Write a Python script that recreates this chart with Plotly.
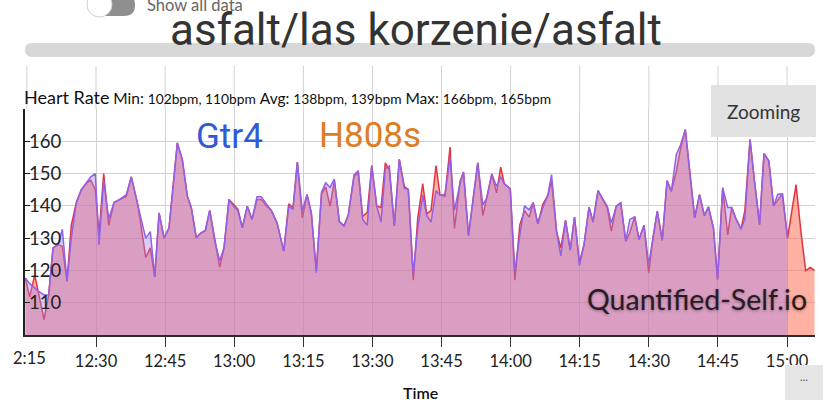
import plotly.graph_objects as go

# ---------------- data ----------------
times = ["12:14:39","12:15:36","12:16:42","12:17:34","12:18:43","12:19:44","12:20:40","12:21:45","12:22:41","12:23:42",
"12:24:38","12:25:43","12:26:49","12:27:54","12:28:51","12:29:51","12:30:39","12:31:40","12:32:45","12:33:54",
"12:35:09","12:36:35","12:37:40","12:39:07","12:39:57","12:40:47","12:41:47","12:42:45","12:43:41","12:44:46",
"12:45:51","12:46:43","12:47:39","12:48:44","12:49:49","12:50:41","12:51:46","12:52:44","12:53:44","12:54:41",
"12:55:46","12:56:51","12:57:47","12:58:52","12:59:53","13:00:49","13:01:45","13:02:50","13:03:52","13:04:57",
"13:05:53","13:06:58","13:08:03","13:09:18","13:10:45","13:11:50","13:12:46","13:13:42","13:14:47","13:15:48",
"13:16:44","13:17:49","13:18:57","13:19:52","13:20:48","13:21:44","13:22:49","13:23:50","13:24:46","13:26:00",
"13:26:56","13:27:53","13:28:53","13:29:51","13:30:56","13:31:52","13:32:48","13:33:40","13:34:45","13:35:50",
"13:36:55","13:37:47","13:38:52","13:39:50","13:40:55","13:41:47","13:42:43","13:43:48","13:44:40","13:45:45",
"13:46:51","13:47:49","13:49:01","13:49:46","13:50:51","13:51:53","13:52:52","13:53:58","13:54:51","13:55:55",
"13:56:56","13:57:51","13:58:38","13:59:55","14:00:55","14:02:00","14:03:01","14:04:02","14:04:54","14:05:54",
"14:06:59","14:08:03","14:08:53","14:09:58","14:10:54","14:11:55","14:12:56","14:13:52","14:14:56","14:15:56",
"14:17:01","14:17:53","14:18:58","14:20:03","14:20:59","14:21:51","14:22:56","14:23:54","14:24:59","14:25:51",
"14:26:56","14:27:52","14:28:57","14:29:58","14:30:54","14:31:50","14:32:55","14:33:57","14:34:53","14:35:58",
"14:36:55","14:37:55","14:38:52","14:39:57","14:41:00","14:42:03","14:42:57","14:44:02","14:44:55","14:46:02",
"14:47:07","14:47:59","14:48:58","14:50:01","14:50:50","14:51:58","14:52:57","14:54:02","14:55:00","14:56:02",
"14:57:04","14:58:00","14:58:59","15:00:06","15:01:01","15:01:57","15:03:02","15:04:03","15:05:02","15:05:58"]

hr_gtr4 = [117.7,115.9,114.6,113.5,112.4,112.5,127,128,132.7,116.7,
130,141,145,147,149,150,128,148,136,141,
142,143.5,149,140,135,130,132,118,137.8,130,
133.2,145,159.5,154.3,143,139.4,130.1,131.6,132.4,138.6,
129.1,123,127,142,139.8,138.5,133.2,139.9,135.8,142.8,
142.8,140.6,138.6,134.7,126,139.9,138.9,153.6,138.5,143.5,
137.8,119.3,144.3,147.1,145.7,148.3,135.1,133.8,137.2,149.6,
150.9,135.8,134,152.5,139.9,135,151.5,152.3,133.8,154.4,
145.4,145.1,119,133,143.3,137,135,144.7,143.3,143.6,
154.9,138.6,147,150.5,130.8,142.5,153.3,140.3,142.5,149.9,
146,149,146.8,145.3,119.7,131,140,138.8,141,134.4,
139.5,143.2,149.7,132,124.5,135.5,126.3,136.5,121.6,128,
139.6,135,144.7,142,139.9,134.7,139.9,140.9,129.1,135.8,
136.6,129.6,134,121.9,130.6,138.4,129.3,147.8,144.5,155.9,
159,163.6,150.7,136.3,143.5,137,139.7,133,117.2,145.6,
139.5,139.5,135.8,132.8,135.8,160.5,147.4,134.2,156.2,154,
140,143.6,143.7,130.2]

hr_h808s = [117.7,111.8,118.6,113,104.8,112.5,127,128,127.5,116.7,
134,141,145,147,148,145,131,150,134,141,
142,143,149,140,132,124,127,118,137.8,130,
133.2,145,159.5,154.3,143,139.4,130.1,131.6,132.4,138.6,
129.1,121,127,142,140.4,138.9,133.2,139.9,135.8,142,
142,140,138.6,134.7,126,140.6,139.5,153.6,136.3,143.5,
137.8,120,143.7,145.9,139.9,147.7,135.1,133.8,137.2,149,
150.3,136.7,138,152.5,139.9,139.5,153.3,151,133.8,154.4,
146,145.1,117,136.1,146.9,137.5,138.5,152.5,143.3,143,
158.2,133,147.5,150.5,130.8,142.5,153.3,137,142.5,149.9,
144,152,146.8,145.3,117,134.2,138.5,136.5,141,134.4,
140.5,143.2,147.7,132,127,135.5,126.3,136.5,122.5,128,
139.6,135,144.7,142,139.4,132.2,139.9,140.9,129.1,131.6,
136.6,129.6,134,119.3,130,138.4,129.3,147.8,144.5,150.7,
158,163.6,150.7,136.3,143.5,137,139.7,133,117.2,145.6,
131,139.5,135.8,132.8,138.4,160.5,147.4,134.2,156.2,154,
140,142,143.7,130,138,146.6,131.7,119.9,120.9,120]

tick_times = ["12:15","12:30","12:45","13:00","13:15","13:30","13:45","14:00","14:15","14:30","14:45","15:00"]
tick_labels = ["2:15","12:30","12:45","13:00","13:15","13:30","13:45","14:00","14:15","14:30","14:45","15:00"]
y_ticks = [110, 120, 130, 140, 150, 160, 170]
y_labels = ["110", "120", "130", "140", "150", "160", ""]

title_text = "asfalt/las korzenie/asfalt"
stats_text = ("<span style='font-size:18px'>Heart Rate</span> "
              "<span style='font-size:15.5px'>Min:</span> <span style='font-size:13.8px'>102bpm, 110bpm</span> "
              "<span style='font-size:15.5px'>Avg:</span> <span style='font-size:13.8px'>138bpm, 139bpm</span> "
              "<span style='font-size:15.5px'>Max:</span> <span style='font-size:13.8px'>166bpm, 165bpm</span>")

DAY = "2021-05-01 "
x_h808s = [DAY + t for t in times]
x_gtr4 = [DAY + t for t in times[:len(hr_gtr4)]]

# ---------------- layout helpers (pixel -> paper) ----------------
W, H = 840, 400
L, R, T, B = 25, 25, 109, 65
PW, PH = W - L - R, H - T - B


def px(x):
    return (x - L) / PW


def py(y):
    return (H - B - y) / PH


fig = go.Figure()

fig.add_trace(go.Scatter(
    x=x_h808s, y=hr_h808s, name="H808s", mode="lines",
    line=dict(color="#e3343f", width=1.5),
    fill="tozeroy", fillcolor="rgba(255,99,71,0.5)",
))
fig.add_trace(go.Scatter(
    x=x_gtr4, y=hr_gtr4, name="Gtr4", mode="lines",
    line=dict(color="#9360e6", width=1.5),
    fill="tozeroy", fillcolor="rgba(160,130,240,0.4)",
))

shapes = []
# gridlines extending above plot
for t in tick_times:
    shapes.append(dict(type="line", xref="x", yref="paper", x0=DAY + t, x1=DAY + t,
                       y0=1, y1=py(66), line=dict(color="#d2d2d2", width=1), layer="below"))

# grey rounded bar
x0, x1, yt, yb = px(25), px(815), py(43), py(57)
r = 7 / PW
ym = (yt + yb) / 2
shapes.append(dict(type="path", xref="paper", yref="paper",
                   path=f"M {x0+r},{yt} L {x1-r},{yt} Q {x1},{yt} {x1},{ym} Q {x1},{yb} {x1-r},{yb} "
                        f"L {x0+r},{yb} Q {x0},{yb} {x0},{ym} Q {x0},{yt} {x0+r},{yt} Z",
                   fillcolor="#d8d8d8", line=dict(width=0)))

# toggle switch (top-left)
tx0, tx1, tyt, tyb = px(96), px(135), py(-6), py(16)
tr = 11 / PW
tym = (tyt + tyb) / 2
shapes.append(dict(type="path", xref="paper", yref="paper",
                   path=f"M {tx0+tr},{tyt} L {tx1-tr},{tyt} Q {tx1},{tyt} {tx1},{tym} Q {tx1},{tyb} {tx1-tr},{tyb} "
                        f"L {tx0+tr},{tyb} Q {tx0},{tyb} {tx0},{tym} Q {tx0},{tyt} {tx0+tr},{tyt} Z",
                   fillcolor="#8f8f8f", line=dict(width=0)))
shapes.append(dict(type="circle", xref="paper", yref="paper",
                   x0=px(87), x1=px(112), y0=py(17), y1=py(-8),
                   fillcolor="#ffffff", line=dict(color="#cfcfcf", width=1)))

# Zooming button
shapes.append(dict(type="rect", xref="paper", yref="paper",
                   x0=px(711), x1=px(816), y0=py(137), y1=py(85),
                   fillcolor="#e2e2e2", line=dict(width=0)))
# ... button
shapes.append(dict(type="rect", xref="paper", yref="paper",
                   x0=px(785), x1=px(823), y0=py(400), y1=py(365),
                   fillcolor="#e6e6e6", line=dict(width=0)))

annotations = [
    dict(text=title_text, xref="paper", yref="paper", x=px(416), y=py(30),
         showarrow=False, xanchor="center", yanchor="middle",
         font=dict(family="Roboto", size=44, color="#333333")),
    dict(text="Show all data", xref="paper", yref="paper", x=px(145), y=py(5),
         showarrow=False, xanchor="left", yanchor="middle",
         font=dict(family="Lato", size=16.5, color="#666666")),
    dict(text=stats_text, xref="paper", yref="paper", x=px(22), y=py(97),
         showarrow=False, xanchor="left", yanchor="middle",
         font=dict(family="Lato", size=15, color="#111111")),
    dict(text="Gtr4", xref="paper", yref="paper", x=px(229), y=py(136),
         showarrow=False, xanchor="center", yanchor="middle",
         font=dict(family="Roboto", size=35, color="#2f5ad8")),
    dict(text="H808s", xref="paper", yref="paper", x=px(370), y=py(135),
         showarrow=False, xanchor="center", yanchor="middle",
         font=dict(family="Roboto", size=35, color="#dc7e25")),
    dict(text="Quantified-Self.io", xref="paper", yref="paper", x=px(697), y=py(299),
         showarrow=False, xanchor="center", yanchor="middle",
         font=dict(family="Lato", size=28.5, color="#2a1a24", shadow="0px 1px 3px rgba(0,0,0,0.35)")),
    dict(text="Zooming", xref="paper", yref="paper", x=px(763), y=py(111),
         showarrow=False, xanchor="center", yanchor="middle",
         font=dict(family="Lato", size=19, color="#333333")),
    dict(text="...", xref="paper", yref="paper", x=px(804), y=py(376),
         showarrow=False, xanchor="center", yanchor="middle",
         font=dict(family="Lato", size=11, color="#555555")),
    dict(text="Time", xref="paper", yref="paper", x=px(420), y=py(392),
         showarrow=False, xanchor="center", yanchor="middle",
         font=dict(family="Lato", size=16, color="#111111", weight=600)),
    # first x tick label (hidden by plotly next to inside y labels), placed under its tick
    dict(text=tick_labels[0], xref="x", yref="paper", x=DAY + tick_times[0], y=py(358),
         showarrow=False, xanchor="center", yanchor="middle", xshift=3,
         font=dict(family="Lato", size=16.5, color="#222222")),
]

fig.update_layout(
    width=W, height=H,
    margin=dict(l=L, r=R, t=T, b=B, pad=0),
    paper_bgcolor="white", plot_bgcolor="white",
    showlegend=False,
    shapes=shapes,
    annotations=annotations,
    xaxis=dict(
        type="date",
        range=[DAY + "12:14:35", DAY + "15:06:04"],
        tickvals=[DAY + t for t in tick_times],
        ticktext=[""] + tick_labels[1:],
        ticklabeloverflow="allow",
        ticks="outside", ticklen=10, tickcolor="#333333", tickwidth=1,
        showline=True, linecolor="#2b2b2b", linewidth=2,
        showgrid=True, gridcolor="#d2d2d2", gridwidth=1,
        zeroline=False,
        tickfont=dict(family="Lato", size=16.5, color="#222222"),
    ),
    yaxis=dict(
        range=[100, 170],
        tickvals=y_ticks, ticktext=y_labels,
        ticklabelposition="inside",
        ticks="inside", ticklen=5, tickcolor="#222222",
        showline=True, linecolor="#222222", linewidth=1.5,
        showgrid=True, gridcolor="#d2d2d2", gridwidth=1,
        zeroline=False,
        tickfont=dict(family="Lato", size=18.5, color="#222222"),
    ),
)

fig.write_html("out.html", config={"displayModeBar": False},
               post_script="document.body.style.margin='0px';document.body.style.overflow='hidden';")
